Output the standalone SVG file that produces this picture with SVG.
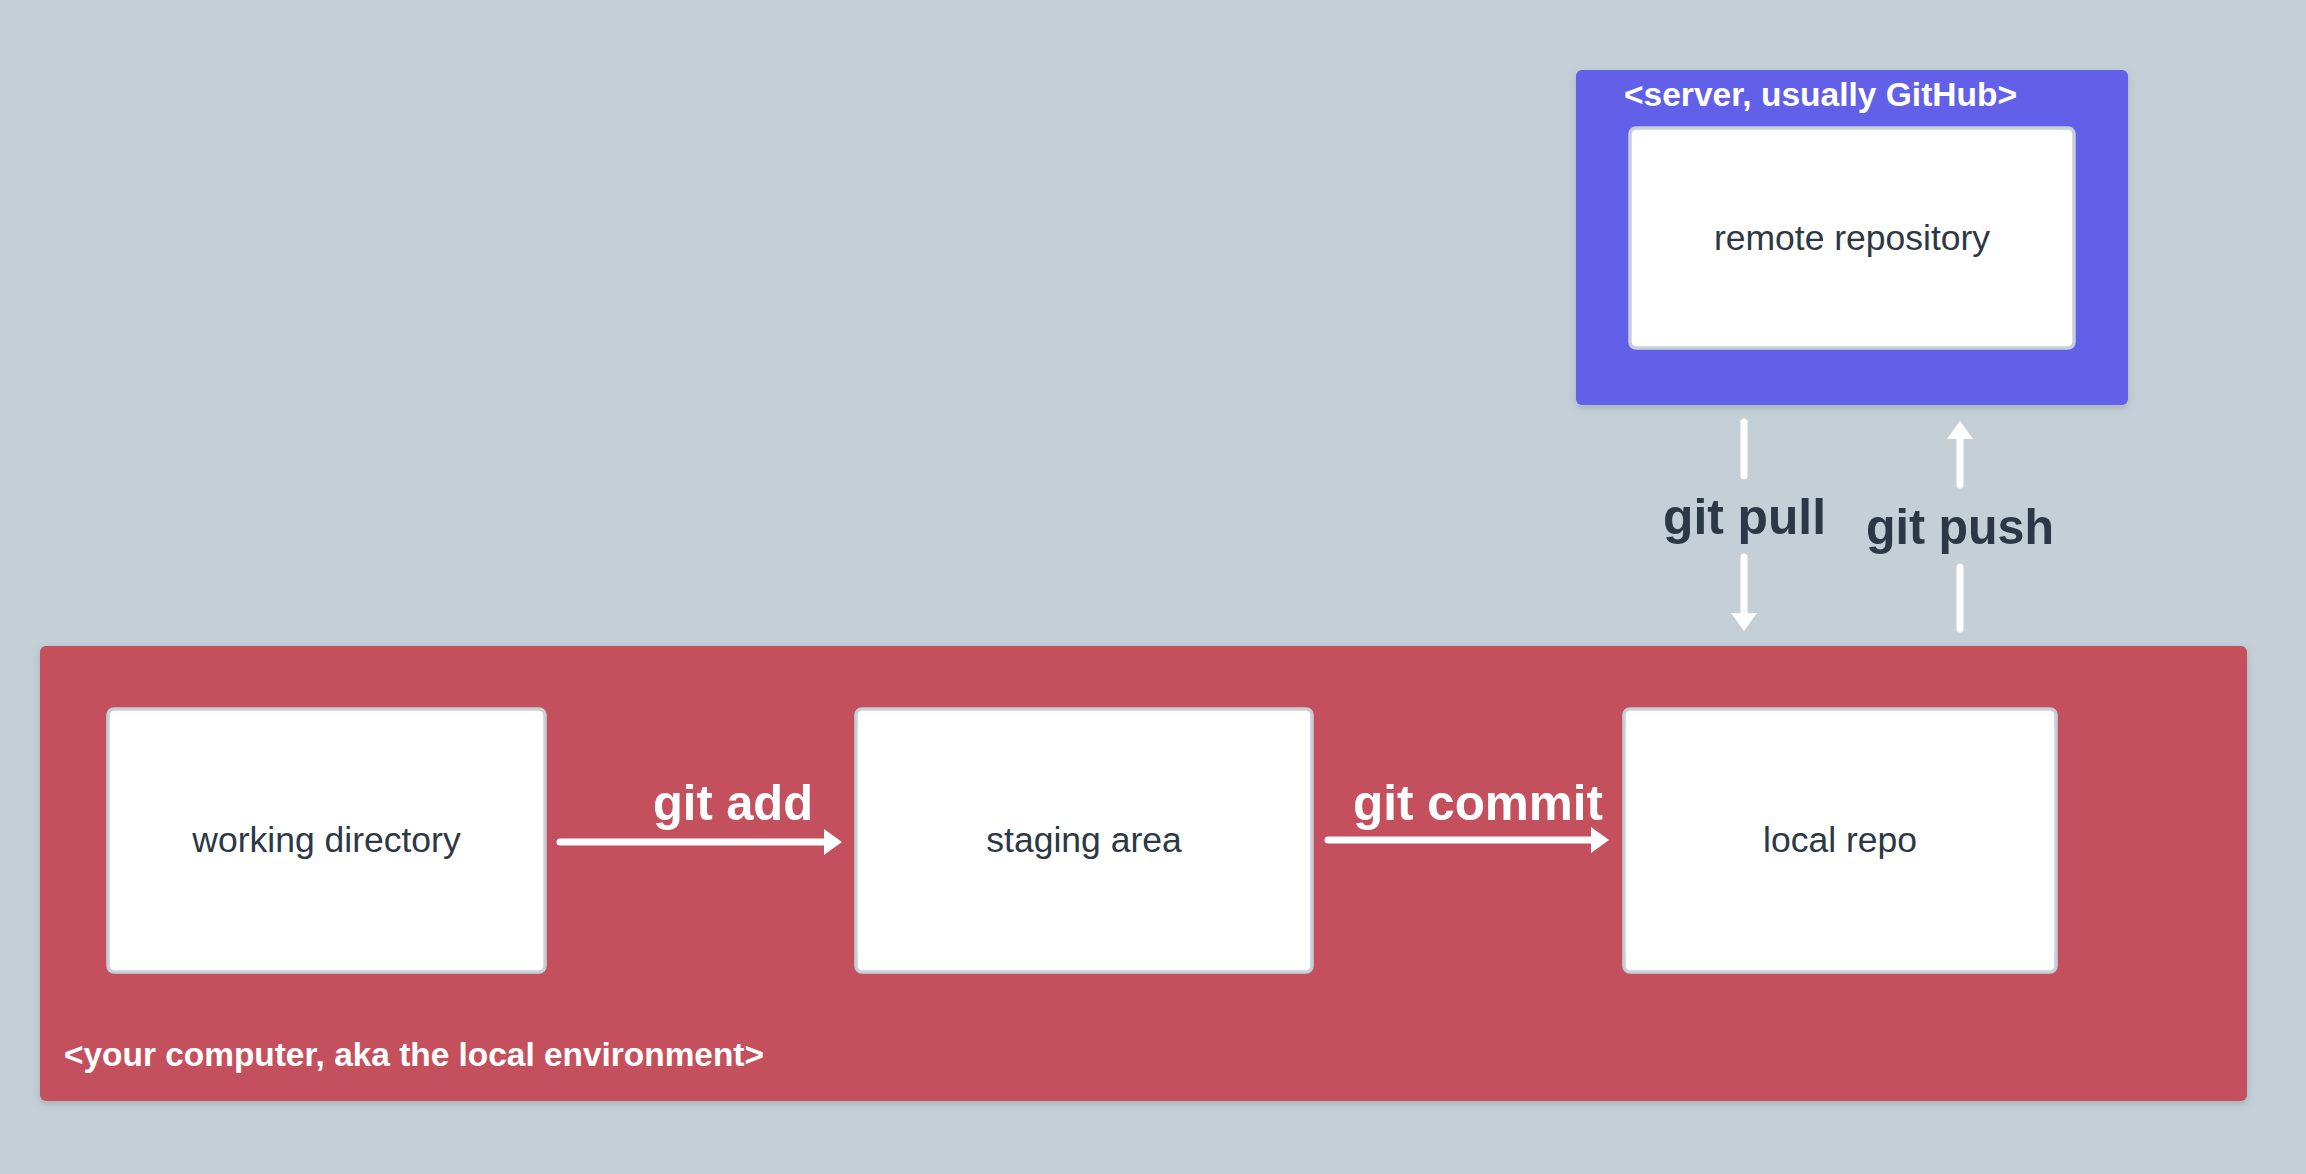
<svg xmlns="http://www.w3.org/2000/svg" width="2306" height="1174" viewBox="0 0 2306 1174">
  <style>
    .box { fill: #ffffff; stroke: #c6d0d9; stroke-width: 3.5; }
    .lbl { font-family: "Liberation Sans", Arial, sans-serif; font-size: 35.5px; fill: #2c3845; text-anchor: middle; }
    .title { font-family: "Liberation Sans", Arial, sans-serif; font-size: 33px; font-weight: bold; fill: #ffffff; }
    .cmd { font-family: "Liberation Sans", Arial, sans-serif; font-size: 50px; font-weight: bold; }
    .conn { fill: none; stroke: #ffffff; stroke-width: 7; stroke-linecap: round; }
  </style>
  <defs>
    <marker id="head" markerUnits="userSpaceOnUse" markerWidth="20" markerHeight="28" viewBox="0 -14 20 28" refX="1" refY="0" orient="auto">
      <path d="M0,-13 L18,0 L0,13 Z" fill="#ffffff"/>
    </marker>
    <filter id="shadow" x="-5%" y="-5%" width="110%" height="115%">
      <feDropShadow dx="0" dy="3" stdDeviation="4" flood-color="#000000" flood-opacity="0.15"/>
    </filter>
  </defs>
  <rect width="2306" height="1174" fill="#c4cfd8"/>

  <g id="server">
    <rect x="1576" y="70" width="552" height="335" rx="6" fill="#625fe9" filter="url(#shadow)"/>
    <text class="title" x="1624" y="106" textLength="393" lengthAdjust="spacingAndGlyphs">&lt;server, usually GitHub&gt;</text>
  </g>
  <g id="remote-repository">
    <rect class="box" x="1630" y="128" width="444" height="220" rx="6"/>
    <text class="lbl" x="1852" y="250">remote repository</text>
  </g>

  <g id="local-environment">
    <rect x="40" y="646" width="2207" height="455" rx="6" fill="#c4505d" filter="url(#shadow)"/>
    <text class="title" x="64" y="1066" textLength="700" lengthAdjust="spacingAndGlyphs">&lt;your computer, aka the local environment&gt;</text>
  </g>
  <g id="working-directory">
    <rect class="box" x="108" y="709" width="437" height="263" rx="6"/>
    <text class="lbl" x="326.5" y="852">working directory</text>
  </g>
  <g id="staging-area">
    <rect class="box" x="856" y="709" width="456" height="263" rx="6"/>
    <text class="lbl" x="1084" y="852">staging area</text>
  </g>
  <g id="local-repo">
    <rect class="box" x="1624" y="709" width="432" height="263" rx="6"/>
    <text class="lbl" x="1840" y="852">local repo</text>
  </g>

  <g id="connectors">
    <path class="conn" d="M560,842 L825,842" marker-end="url(#head)"/>
    <text class="cmd" x="653" y="820" fill="#ffffff" textLength="160" lengthAdjust="spacingAndGlyphs">git add</text>

    <path class="conn" d="M1328,840 L1592,840" marker-end="url(#head)"/>
    <text class="cmd" x="1353" y="820" fill="#ffffff" textLength="250" lengthAdjust="spacingAndGlyphs">git commit</text>

    <path class="conn" d="M1744,422 L1744,476"/>
    <path class="conn" d="M1744,557 L1744,614" marker-end="url(#head)"/>
    <text class="cmd" x="1663" y="534" fill="#2c3845" textLength="163" lengthAdjust="spacingAndGlyphs">git pull</text>

    <path class="conn" d="M1960,629 L1960,567"/>
    <path class="conn" d="M1960,485 L1960,438" marker-end="url(#head)"/>
    <text class="cmd" x="1866" y="544" fill="#2c3845" textLength="188" lengthAdjust="spacingAndGlyphs">git push</text>
  </g>
</svg>
